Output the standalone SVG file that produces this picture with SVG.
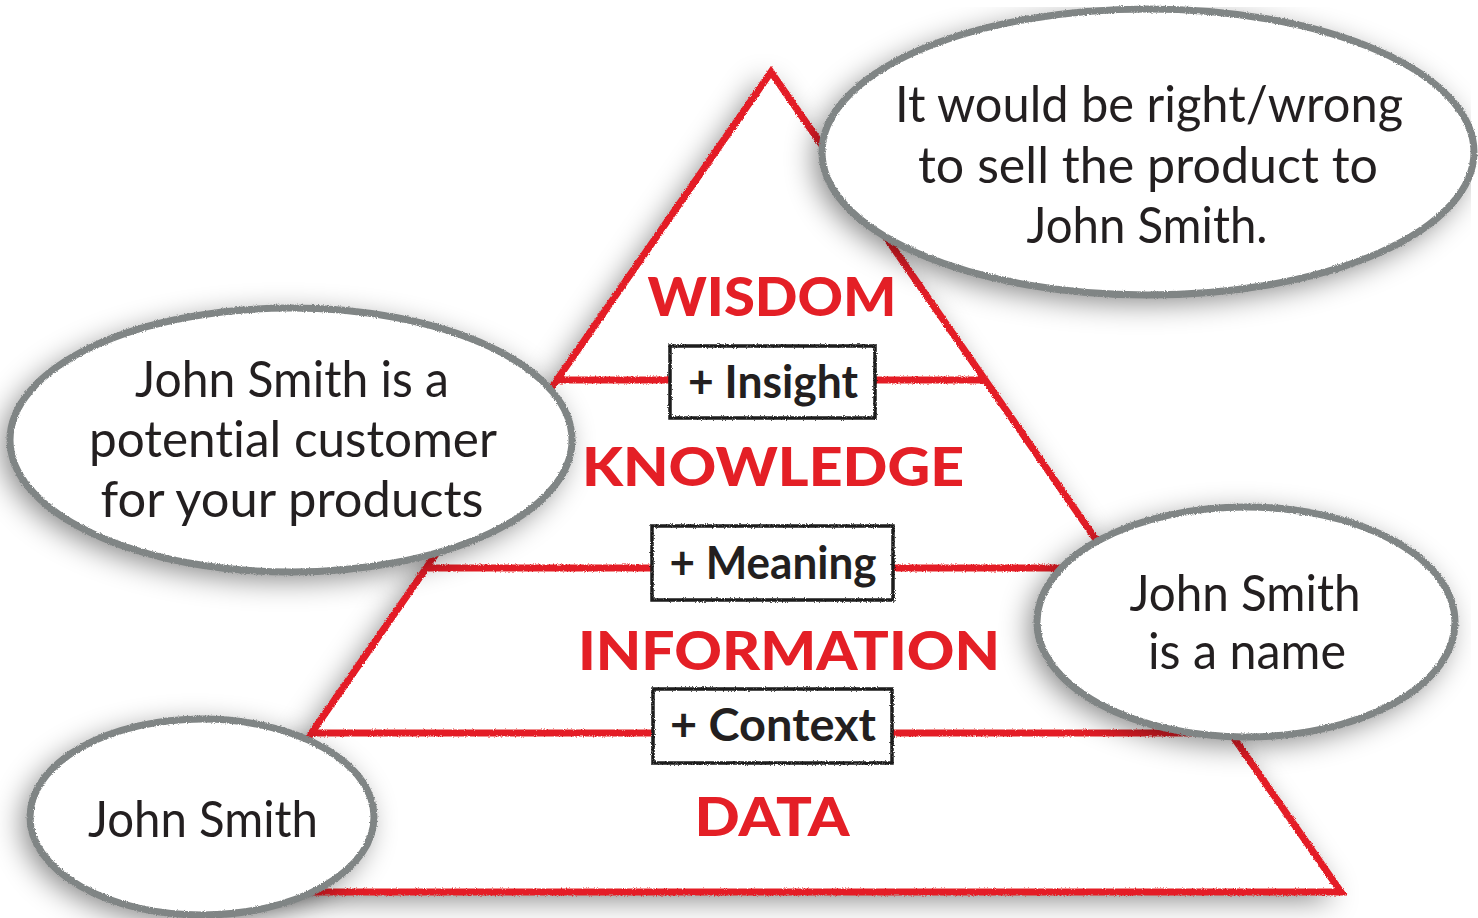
<svg xmlns="http://www.w3.org/2000/svg" width="1478" height="918" viewBox="0 0 1478 918">
  <defs>
    <filter id="rough" filterUnits="userSpaceOnUse" x="0" y="0" width="1478" height="918">
      <feTurbulence type="fractalNoise" baseFrequency="0.9" numOctaves="2" seed="4" result="n"/>
      <feDisplacementMap in="SourceGraphic" in2="n" scale="3" xChannelSelector="R" yChannelSelector="G"/>
    </filter>
    <filter id="shadow" filterUnits="userSpaceOnUse" x="0" y="0" width="1478" height="918">
      <feGaussianBlur in="SourceAlpha" stdDeviation="15"/>
      <feOffset dx="-7" dy="7" result="b"/>
      <feComponentTransfer in="b" result="s">
        <feFuncA type="linear" slope="0.5"/>
      </feComponentTransfer>
      <feMerge>
        <feMergeNode in="s"/>
        <feMergeNode in="SourceGraphic"/>
      </feMerge>
    </filter>
    <style>
      .red { fill: none; stroke: #e41f26; stroke-width: 7; stroke-linejoin: miter; filter: url(#rough); }
      .bubble-fill { fill: #ffffff; filter: url(#shadow); }
      .bubble-line { fill: none; stroke: #808585; stroke-width: 7; filter: url(#rough); }
      .box-fill { fill: #ffffff; }
      .box-line { fill: none; stroke: #1e1e1e; stroke-width: 3.5; filter: url(#rough); }
      text { font-variant-ligatures: none; }
      .body { font-family: Lato, "Open Sans", "Liberation Sans", sans-serif; font-size: 50px; fill: #231f20; text-anchor: middle; }
      .step { font-family: Lato, "Open Sans", "Liberation Sans", sans-serif; font-size: 46px; font-weight: 700; fill: #231f20; text-anchor: middle; }
      .level { font-family: Lato, "Open Sans", "Liberation Sans", sans-serif; font-size: 54px; font-weight: 900; fill: #e41f26; text-anchor: middle; }
    </style>
  </defs>

  <rect width="1478" height="918" fill="#ffffff"/>

  <!-- Pyramid -->
  <g id="pyramid">
    <polygon points="771,72 201,892 1341,892" fill="#ffffff" filter="url(#shadow)"/>
    <polygon class="red" points="771,72 201,892 1341,892"/>
  </g>

  <!-- Tier dividers -->
  <g id="connectors">
    <line class="red" x1="557" y1="380" x2="985" y2="380"/>
    <line class="red" x1="426" y1="568" x2="1116" y2="568"/>
    <line class="red" x1="312" y1="733" x2="1230" y2="733"/>
  </g>

  <!-- Level labels -->
  <g id="wisdom"><text class="level" x="772" y="316" textLength="249" lengthAdjust="spacingAndGlyphs">WISDOM</text></g>
  <g id="knowledge"><text class="level" x="773" y="486" textLength="382" lengthAdjust="spacingAndGlyphs">KNOWLEDGE</text></g>
  <g id="information"><text class="level" x="789" y="670" textLength="422" lengthAdjust="spacingAndGlyphs">INFORMATION</text></g>
  <g id="data"><text class="level" x="772" y="836" textLength="155" lengthAdjust="spacingAndGlyphs">DATA</text></g>

  <!-- Step boxes -->
  <g id="insight">
    <rect class="box-fill" x="670" y="346" width="205" height="72"/>
    <rect class="box-line" x="670" y="346" width="205" height="72"/>
    <text class="step" x="773" y="398" textLength="170" lengthAdjust="spacingAndGlyphs">+ Insight</text>
  </g>
  <g id="meaning">
    <rect class="box-fill" x="652" y="526" width="241" height="74"/>
    <rect class="box-line" x="652" y="526" width="241" height="74"/>
    <text class="step" x="773" y="579" textLength="207" lengthAdjust="spacingAndGlyphs">+ Meaning</text>
  </g>
  <g id="context">
    <rect class="box-fill" x="653" y="689" width="239" height="74"/>
    <rect class="box-line" x="653" y="689" width="239" height="74"/>
    <text class="step" x="773" y="741" textLength="206" lengthAdjust="spacingAndGlyphs">+ Context</text>
  </g>

  <!-- Bubbles -->
  <g id="bubble-wisdom">
    <ellipse class="bubble-fill" cx="1148" cy="152" rx="326" ry="143"/>
    <ellipse class="bubble-line" cx="1148" cy="152" rx="326" ry="143"/>
    <text class="body" x="1149" y="122" textLength="508" lengthAdjust="spacingAndGlyphs">It would be right/wrong</text>
    <text class="body" x="1148" y="183" textLength="460" lengthAdjust="spacingAndGlyphs">to sell the product to</text>
    <text class="body" x="1147" y="243" textLength="241" lengthAdjust="spacingAndGlyphs">John Smith.</text>
  </g>

  <g id="bubble-knowledge">
    <ellipse class="bubble-fill" cx="291" cy="440" rx="281" ry="132"/>
    <ellipse class="bubble-line" cx="291" cy="440" rx="281" ry="132"/>
    <text class="body" x="292" y="397" textLength="314" lengthAdjust="spacingAndGlyphs">John Smith is a</text>
    <text class="body" x="293" y="457" textLength="408" lengthAdjust="spacingAndGlyphs">potential customer</text>
    <text class="body" x="292" y="517" textLength="383" lengthAdjust="spacingAndGlyphs">for your products</text>
  </g>

  <g id="bubble-information">
    <ellipse class="bubble-fill" cx="1246" cy="622" rx="209" ry="115"/>
    <ellipse class="bubble-line" cx="1246" cy="622" rx="209" ry="115"/>
    <text class="body" x="1245" y="611" textLength="231" lengthAdjust="spacingAndGlyphs">John Smith</text>
    <text class="body" x="1247" y="669" textLength="198" lengthAdjust="spacingAndGlyphs">is a name</text>
  </g>

  <g id="bubble-data">
    <ellipse class="bubble-fill" cx="202" cy="817" rx="172" ry="98"/>
    <ellipse class="bubble-line" cx="202" cy="817" rx="172" ry="98"/>
    <text class="body" x="203" y="837" textLength="230" lengthAdjust="spacingAndGlyphs">John Smith</text>
  </g>
</svg>
